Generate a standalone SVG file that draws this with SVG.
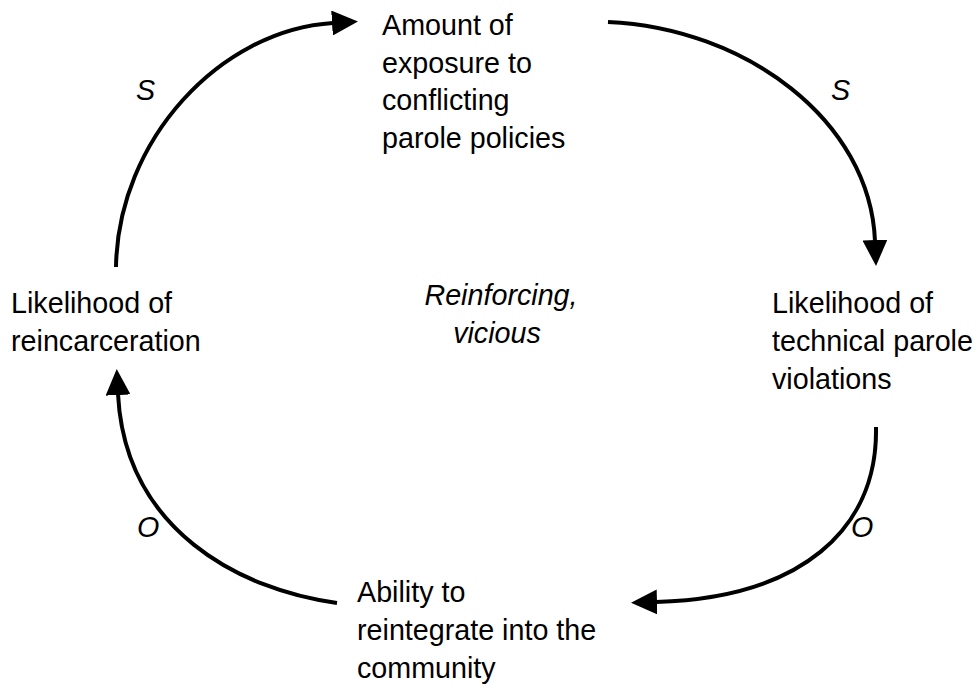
<svg xmlns="http://www.w3.org/2000/svg" width="979" height="690" viewBox="0 0 979 690">
<style>
.t{font-family:"Liberation Sans",Arial,sans-serif;font-size:28.7px;fill:#000}
.i{font-style:italic}
.c{fill:none;stroke:#000;stroke-width:4}
</style>
<defs>
<marker id="ah" viewBox="0 0 26 25" refX="1" refY="12.5" markerWidth="26" markerHeight="25" markerUnits="userSpaceOnUse" orient="auto">
<path d="M0,0 L26,12.5 L0,25 z" fill="#000"/>
</marker>
</defs>
<rect width="979" height="690" fill="#fff"/>
<g id="connectors">
<path class="c" d="M116,267 C118,140 220,30 333,23" marker-end="url(#ah)"/>
<path class="c" d="M608,22 C745,28 870,120 875,241" marker-end="url(#ah)"/>
<path class="c" d="M876,427 C878,530 800,598 656,602" marker-end="url(#ah)"/>
<path class="c" d="M337,603 C240,590 125,530 118,394" marker-end="url(#ah)"/>
<text class="t i" x="136" y="100">S</text>
<text class="t i" x="831" y="100">S</text>
<text class="t i" x="851" y="537">O</text>
<text class="t i" x="137" y="537">O</text>
</g>
<g id="node-exposure">
<text class="t" x="382" y="35">Amount of</text>
<text class="t" x="382" y="73">exposure to</text>
<text class="t" x="382" y="110">conflicting</text>
<text class="t" x="382" y="148">parole policies</text>
</g>
<g id="node-violations">
<text class="t" x="772" y="313">Likelihood of</text>
<text class="t" x="772" y="351">technical parole</text>
<text class="t" x="772" y="389">violations</text>
</g>
<g id="node-reintegrate">
<text class="t" x="357" y="602">Ability to</text>
<text class="t" x="357" y="640">reintegrate into the</text>
<text class="t" x="357" y="678">community</text>
</g>
<g id="node-reincarceration">
<text class="t" x="11" y="313">Likelihood of</text>
<text class="t" x="11" y="351">reincarceration</text>
</g>
<g id="loop-label">
<text class="t i" x="501" y="305" text-anchor="middle">Reinforcing,</text>
<text class="t i" x="497" y="343" text-anchor="middle">vicious</text>
</g>
</svg>
